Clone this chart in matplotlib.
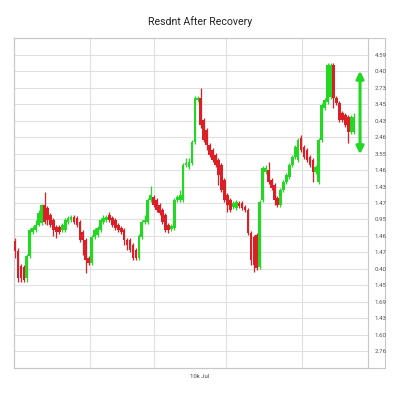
import numpy as np
import matplotlib
matplotlib.use('Agg')
import matplotlib.pyplot as plt

plt.rcParams['font.family'] = ['Roboto', 'DejaVu Sans']

# candle data (arbitrary price units)
opens = [159, 149, 134, 133, 122, 144, 168, 170, 175, 177, 195, 192, 185, 180, 173, 173, 170, 170, 178, 180,
         183, 182, 178, 168, 160, 142, 137, 163, 165, 170, 178, 180, 185, 182, 180, 175, 172, 170, 160, 160,
         155, 150, 142, 163, 178, 178, 200, 203, 200, 195, 190, 185, 175, 171, 172, 200, 200, 200, 235, 233,
         237, 258, 300, 302, 280, 270, 255, 250, 245, 240, 235, 220, 205, 200, 193, 192, 197, 197, 193, 190,
         167, 163, 165, 133, 200, 228, 230, 220, 215, 202, 195, 210, 218, 223, 235, 243, 240, 262, 253, 250,
         243, 240, 228, 218, 260, 292, 298, 303, 335, 302, 297, 287, 285, 283, 268, 268]
highs = [162, 152, 136, 135, 146, 172, 174, 180, 190, 196, 208, 194, 187, 182, 175, 175, 177, 182, 184, 185,
         185, 184, 180, 170, 162, 144, 165, 172, 174, 182, 185, 185, 188, 184, 182, 177, 174, 172, 162, 162,
         157, 152, 166, 180, 185, 202, 214, 205, 202, 197, 192, 187, 177, 176, 202, 205, 210, 237, 242, 242,
         260, 304, 304, 312, 282, 272, 257, 252, 247, 242, 237, 222, 207, 202, 199, 200, 199, 199, 195, 192,
         169, 165, 167, 200, 234, 235, 238, 222, 217, 204, 212, 220, 227, 237, 245, 255, 262, 265, 255, 252,
         245, 242, 235, 262, 297, 302, 337, 337, 337, 304, 299, 289, 287, 285, 285, 287]
lows = [142, 118, 118, 118, 118, 142, 166, 168, 174, 175, 176, 175, 173, 164, 162, 166, 168, 168, 176, 178,
        176, 173, 158, 145, 127, 135, 135, 161, 163, 168, 176, 178, 178, 173, 170, 168, 166, 155, 150, 148,
        140, 140, 140, 161, 176, 176, 198, 193, 188, 185, 176, 168, 167, 169, 170, 198, 198, 198, 233, 231,
        235, 256, 298, 272, 258, 250, 243, 238, 233, 215, 208, 198, 188, 188, 191, 190, 192, 190, 188, 165,
        135, 128, 130, 131, 198, 226, 216, 210, 195, 193, 193, 208, 216, 221, 233, 241, 238, 248, 241, 238,
        233, 218, 226, 216, 258, 290, 296, 301, 292, 295, 278, 278, 273, 257, 266, 266]
closes = [149, 122, 122, 120, 144, 170, 172, 175, 187, 195, 178, 180, 175, 170, 168, 168, 175, 180, 182, 183,
          178, 175, 160, 160, 140, 137, 163, 170, 172, 180, 182, 183, 180, 175, 172, 170, 168, 160, 155, 150,
          142, 142, 164, 178, 180, 200, 205, 195, 190, 187, 178, 170, 170, 174, 200, 203, 205, 235, 237, 238,
          258, 302, 302, 275, 260, 255, 245, 240, 235, 225, 210, 200, 195, 190, 197, 198, 194, 192, 190, 167,
          140, 135, 132, 198, 232, 232, 218, 212, 200, 195, 210, 218, 225, 235, 243, 253, 260, 250, 243, 240,
          235, 228, 233, 260, 295, 300, 335, 335, 302, 297, 280, 280, 275, 268, 283, 283]

ytick_labels = ['4.59', '0.40', '2.73', '3.45', '0.43', '2.46', '3.55', '1.46', '1.43', '1.47',
                '0.95', '1.46', '1.47', '0.40', '1.45', '1.69', '1.43', '1.60', '2.76']

title = 'Resdnt After Recovery'
xlabel = '10k Jul'

GREEN = '#22d822'
RED = '#dc1f26'
GRID = '#e0e0e0'
FRAME = '#c8c8c8'

o = np.array(opens)
h = np.array(highs)
l = np.array(lows)
c = np.array(closes)
x = np.arange(len(o))
colors = [GREEN if cc >= oo else RED for oo, cc in zip(o, c)]

fig = plt.figure(figsize=(4, 4), dpi=100)

# outer frame including the label column
bg = fig.add_axes([14 / 400, 32 / 400, 371 / 400, 330 / 400])
bg.set_xticks([])
bg.set_yticks([])
for s in bg.spines.values():
    s.set_color(FRAME)
    s.set_linewidth(0.8)

ax = fig.add_axes([14 / 400, 32 / 400, 354 / 400, 330 / 400])
ax.patch.set_alpha(0)
for s in ax.spines.values():
    s.set_color(FRAME)
    s.set_linewidth(0.8)

ax.set_xlim(-0.35, 119.7)
ax.set_ylim(32, 362)

yticks = np.linspace(49, 345, 19)
ax.set_yticks(yticks)
ax.set_yticklabels(ytick_labels[::-1])
ax.yaxis.tick_right()
ax.tick_params(axis='y', length=0, pad=5, labelsize=4.4, labelcolor='#555555')
ax.set_xticks([])

for yy in yticks:
    ax.axhline(yy, color=GRID, lw=0.8, zorder=0)
for xx in [25.4, 47.1, 71.5, 97.3]:
    ax.axvline(xx, color=GRID, lw=0.8, zorder=0)

ax.vlines(x, l, h, colors=colors, lw=0.9, zorder=2)
ax.bar(x, np.abs(c - o), bottom=np.minimum(o, c), width=0.92, color=colors, zorder=3)

ax.annotate('', xy=(117, 332), xytext=(117, 243),
            arrowprops=dict(arrowstyle='<|-|>', color=GREEN, lw=2.2, mutation_scale=11),
            zorder=4)

fig.text(0.5, 1 - 22 / 400, title, ha='center', va='center', fontsize=7.6, color='#222222')
fig.text(0.5, 1 - 376 / 400, xlabel, ha='center', va='center', fontsize=4.3, color='#444444')

fig.savefig('out.png', dpi=100)
